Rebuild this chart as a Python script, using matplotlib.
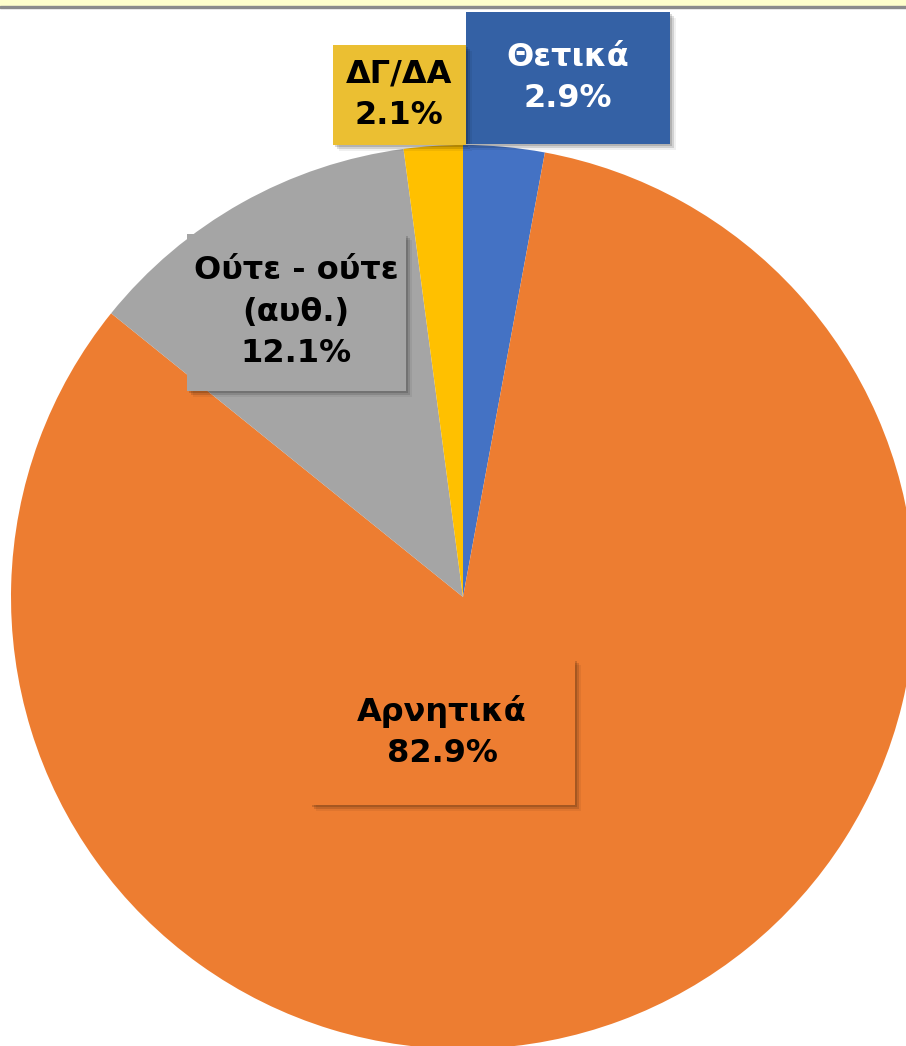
import matplotlib.pyplot as plt
import matplotlib.patheffects as pe
from matplotlib.patches import Rectangle

# data
categories = ['Θετικά', 'Αρνητικά', 'Ούτε - ούτε\n(αυθ.)', 'ΔΓ/ΔΑ']
values = [2.9, 82.9, 12.1, 2.1]
colors = ['#4472C4', '#ED7D31', '#A5A5A5', '#FFC000']

# label boxes (pixel layout, origin top-left): centre x, centre y, width, height
box_pos = [(568, 78, 204, 132), (442, 732, 265, 146), (296, 312, 219, 157), (399, 95, 133, 100)]
box_col = ['#3461A5', '#ED7D31', '#A5A5A5', '#EBBF32']
txt_col = ['white', 'black', 'black', 'black']

W, H = 906, 1046
fig = plt.figure(figsize=(W / 100, H / 100), dpi=100)
ax = fig.add_axes([0, 0, 1, 1])

cx, cy, r = 463, H - 597, 452
ax.pie(values, colors=colors, startangle=90, counterclock=False,
       center=(cx, cy), radius=r, frame=True)
ax.set_xlim(0, W)
ax.set_ylim(0, H)
ax.set_aspect('equal')
ax.axis('off')

# top band
ax.add_patch(Rectangle((0, H - 6), W, 6, color='#FFFFCC', zorder=5, clip_on=False))
ax.add_patch(Rectangle((0, H - 8), W, 2.5, color='#8C8C8C', zorder=5, clip_on=False))

for cat, v, (bx, by, bw, bh), bc, tc in zip(categories, values, box_pos, box_col, txt_col):
    rect = Rectangle((bx - bw / 2, H - by - bh / 2), bw, bh, facecolor=bc,
                     edgecolor='none', zorder=6)
    rect.set_path_effects([pe.SimplePatchShadow(offset=(1.5, -1.5), shadow_rgbFace='black', alpha=0.15),
                           pe.SimplePatchShadow(offset=(3, -3), shadow_rgbFace='black', alpha=0.12),
                           pe.SimplePatchShadow(offset=(4.5, -4.5), shadow_rgbFace='black', alpha=0.06),
                           pe.Normal()])
    ax.add_patch(rect)
    ax.text(bx, H - by, f'{cat}\n{v:.1f}%', ha='center', va='center', color=tc,
            fontsize=23, fontweight='bold', family='DejaVu Sans', linespacing=1.42, zorder=7)

fig.savefig('out.png', dpi=100)
